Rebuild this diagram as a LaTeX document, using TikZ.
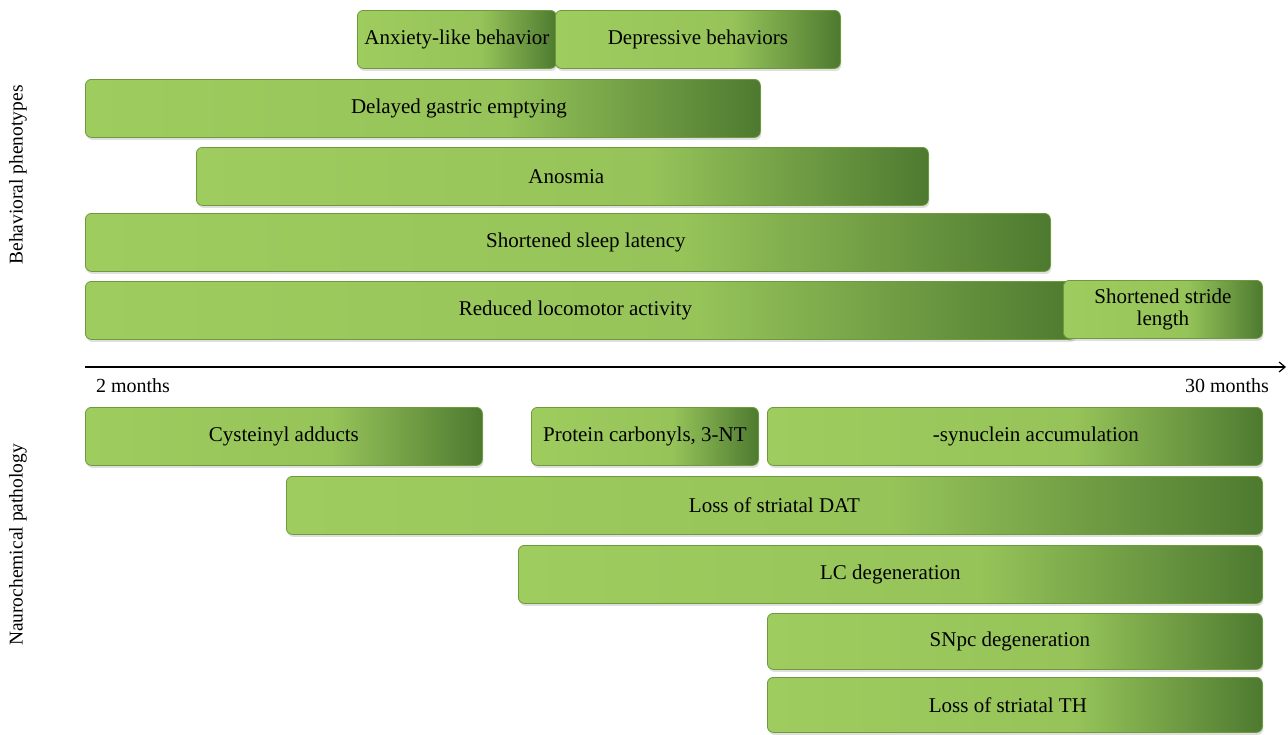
\documentclass[tikz,border=0pt]{standalone}
\usepackage{fontspec}
\setmainfont{Liberation Serif}
\usetikzlibrary{arrows.meta,shadows}
\definecolor{barlight}{HTML}{9ECC5E}
\definecolor{bardark}{HTML}{4E7A30}
\definecolor{barline}{HTML}{6E9A3E}
\pgfdeclarehorizontalshading{barshade}{100bp}{color(0bp)=(barlight); color(25bp)=(barlight); color(56bp)=(barlight!90!bardark); color(75bp)=(bardark); color(100bp)=(bardark)}
\begin{document}
\begin{tikzpicture}[x=1pt,y=1pt,
    bar/.style={draw=barline, line width=0.8pt, rounded corners=6pt, shading=barshade,
      anchor=north west, minimum height=58pt, inner sep=0pt, align=center,
      font=\rmfamily\fontsize{21pt}{22pt}\selectfont,
      drop shadow={opacity=0.25, shadow xshift=1pt, shadow yshift=-2.5pt}},
    side/.style={rotate=90, font=\rmfamily\fontsize{19.5pt}{21pt}\selectfont},
    tick/.style={font=\rmfamily\fontsize{20pt}{22pt}\selectfont}]
  \useasboundingbox (0,0) rectangle (1288,-734);
  \node[bar, minimum width=675pt] (gastric) at (85,-79) {\hspace*{72pt}Delayed gastric emptying};
  \node[bar, minimum width=199pt] (anxiety) at (357,-10) {Anxiety-like behavior};
  \node[bar, minimum width=285pt] (depress) at (555,-10) {Depressive behaviors};
  \node[bar, minimum width=732pt] (anosmia) at (196,-147) {\hspace*{8pt}Anosmia};
  \node[bar, minimum width=965pt] (sleep) at (85,-213) {\hspace*{36pt}Shortened sleep latency};
  \node[bar, minimum width=990pt] (locomotor) at (85,-281) {Reduced locomotor activity\hspace*{10pt}};
  \node[bar, minimum width=199pt] (stride) at (1063,-280) {Shortened stride\\length};
  \coordinate (t0) at (85,-367);
  \coordinate (t1) at (1286,-367);
  \draw[line width=1.2pt, -{Straight Barb[length=6pt,width=10pt]}] (t0) -- (t1);
  \node[tick] (m2) at (133,-386) {2 months};
  \node[tick] (m30) at (1227,-386) {30 months};
  \node[bar, minimum width=397pt] (cystein) at (85,-407) {Cysteinyl adducts};
  \node[bar, minimum width=227pt] (carbonyl) at (531,-407) {Protein carbonyls, 3-NT};
  \node[bar, minimum width=495pt] (synuclein) at (767,-407) {\hspace*{42pt}-synuclein accumulation};
  \node[bar, minimum width=976pt] (dat) at (286,-476) {Loss of striatal DAT};
  \node[bar, minimum width=744pt] (lc) at (518,-545) {LC degeneration};
  \node[bar, minimum width=495pt, minimum height=56pt] (snpc) at (767,-613) {SNpc degeneration\hspace*{10pt}};
  \node[bar, minimum width=495pt, minimum height=55pt] (th) at (767,-677) {Loss of striatal TH\hspace*{14pt}};
  \node[side] (behav) at (18,-175) {Behavioral phenotypes};
  \node[side] (neuro) at (18,-545) {Naurochemical pathology};
\end{tikzpicture}
\end{document}
